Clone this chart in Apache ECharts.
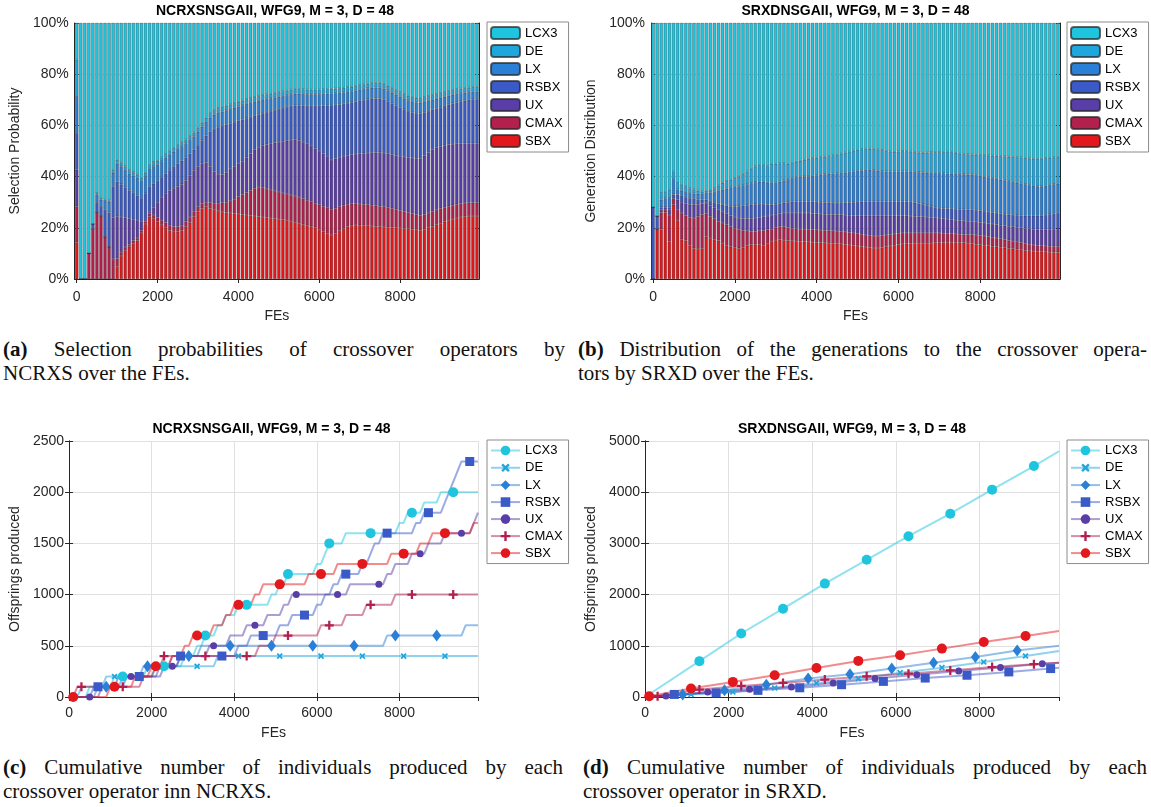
<!DOCTYPE html>
<html>
<head>
<meta charset="utf-8">
<title>Crossover operators</title>
<script src="https://cdn.jsdelivr.net/npm/echarts@6/dist/echarts.min.js"></script>
<style>
  body { margin: 0; background: #fff; width: 1151px; height: 807px; position: relative; overflow: hidden; }
  .panel { position: absolute; width: 575px; height: 330px; }
  .cap { position: absolute; font-family: 'Liberation Serif', 'DejaVu Serif', serif; font-size: 21px; line-height: 24px; color: #111; }
  .cap .l1 { text-align: justify; text-align-last: justify; }
</style>
</head>
<body>
<div id="pa" class="panel" style="left:0;top:0"></div>
<div id="pb" class="panel" style="left:576px;top:0"></div>
<div id="pc" class="panel" style="left:0;top:415px"></div>
<div id="pd" class="panel" style="left:576px;top:415px"></div>

<div class="cap" style="left:3px;top:337px;width:562px">
  <div class="l1"><b>(a)</b> Selection probabilities of crossover operators by</div>
  <div>NCRXS over the FEs.</div>
</div>
<div class="cap" style="left:578px;top:337px;width:569px">
  <div class="l1"><b>(b)</b> Distribution of the generations to the crossover opera-</div>
  <div>tors by SRXD over the FEs.</div>
</div>
<div class="cap" style="left:3px;top:755px;width:560px">
  <div class="l1"><b>(c)</b> Cumulative number of individuals produced by each</div>
  <div>crossover operator inn NCRXS.</div>
</div>
<div class="cap" style="left:583px;top:755px;width:564px">
  <div class="l1"><b>(d)</b> Cumulative number of individuals produced by each</div>
  <div>crossover operator in SRXD.</div>
</div>

<script>
// operators, legend order (top to bottom)
var operators = ['LCX3', 'DE', 'LX', 'RSBX', 'UX', 'CMAX', 'SBX'];
var opColors = {
  LCX3: '#1fc5df', DE: '#1fa6dd', LX: '#2a80d6', RSBX: '#3a5ac7',
  UX: '#5a3ea8', CMAX: '#b2204e', SBX: '#e3181c'
};

// one bar every 100 FEs
var feSteps = [];
for (var g = 0; g < 100; g++) feSteps.push(g * 100);

// ---- (a) NCRXS: cumulative top of each layer (%), bottom layer first ----
var ncrxsSbxTop = [14.3, 0, 0, 0, 0, 0, 0, 0, 0, 0,
  5, 9, 11, 12.6, 14, 15, 18, 21.5, 24.3, 23.5,
  22.4, 21.1, 20, 19, 18.4, 18.5, 19, 20.4, 22, 24.3,
  26.3, 27.6, 28.2, 27.5, 27, 26.6, 26.2, 26, 25.8, 25.6,
  25.4, 25.2, 25, 24.8, 24.6, 24.4, 24.2, 24, 23.8, 23.6,
  23.4, 23.2, 23, 22.6, 22.2, 21.8, 21.4, 21, 20.6, 20.2,
  19.2, 18.5, 17.8, 17.2, 17.8, 18.8, 19.8, 20.5, 21, 21.1,
  21, 20.9, 20.8, 20.7, 20.6, 20.4, 20.3, 20.2, 20.1, 20,
  19.9, 19.8, 19.6, 19.4, 19.2, 19, 19.4, 20, 20.6, 21.2,
  21.8, 22.4, 23, 23.4, 23.8, 24.2, 24.5, 24.6, 24.6, 24.6];
var ncrxsCmaxTop = [28.4, 0, 0, 10, 19.5, 26, 24.6, 16.5, 12.6, 7.8,
  8, 10.5, 12.5, 13.5, 15, 16, 19, 22.5, 25.5, 25,
  24, 23, 22, 21, 20.5, 20.5, 21, 22.5, 24.2, 26.5,
  28.2, 29.5, 30, 29.8, 29.6, 29.6, 29.8, 30, 30.5, 31.2,
  32.2, 33, 33.8, 34.6, 35.4, 35.9, 35.6, 35.2, 34.8, 34.4,
  34, 33.6, 33.2, 32.8, 32.4, 32, 31.4, 30.8, 30.2, 29.6,
  29, 28.4, 27.8, 27.2, 27.6, 28.2, 28.8, 29.2, 29.4, 29.4,
  29.3, 29.2, 29, 28.8, 28.6, 28.4, 28.2, 28, 27.6, 27.2,
  26.8, 26.4, 26, 25.6, 25.2, 24.8, 25.2, 25.8, 26.4, 27,
  27.6, 28, 28.4, 28.8, 29.2, 29.5, 29.7, 29.8, 29.8, 29.8];
var ncrxsUxTop = [42.7, 0, 0, 10, 19.5, 26, 24.6, 16.5, 12.6, 24,
  24.5, 24.2, 24, 23.6, 23.3, 23, 22.6, 23, 26.5, 28,
  30, 32, 33.5, 34.5, 35.5, 36.2, 37, 38.5, 40.5, 42.5,
  44, 45.2, 45.5, 44, 42, 41, 40.8, 41.5, 43, 44,
  45, 46, 47.5, 49, 50.5, 51.5, 52.2, 52.6, 53, 53.3,
  53.5, 53.8, 54, 54.3, 54.5, 54.2, 53.5, 52.8, 52, 51,
  50, 49, 48, 46.5, 47, 47.6, 48, 48.3, 48.6, 48.8,
  49, 49.1, 49.2, 49.3, 49.4, 49.5, 49.2, 48.9, 48.6, 48.3,
  48, 47.7, 47.5, 47.3, 47.1, 47, 48.2, 49.4, 50.5, 51.3,
  51.8, 52.2, 52.5, 52.7, 52.8, 52.9, 53, 53, 53, 53];
var ncrxsRsbxTop = [57, 0, 0, 10, 21.5, 30, 28.5, 27, 26, 36,
  38, 37, 35.8, 34.6, 33.6, 32.6, 31.6, 33.5, 36, 37.2,
  38.3, 39.8, 41.2, 42.5, 43.8, 45, 46.2, 47.5, 49, 50.5,
  52.3, 54.2, 56, 57.5, 58.6, 59.3, 59.8, 60.3, 60.8, 61.3,
  61.8, 62.3, 62.8, 63.3, 63.8, 64.3, 64.8, 65.2, 65.6, 66,
  66.4, 66.8, 67.2, 67.6, 67.8, 67.8, 67.7, 67.6, 67.6, 67.6,
  67.6, 67.7, 67.8, 67.9, 68, 68.2, 68.4, 68.7, 69, 69.3,
  69.6, 69.9, 70.2, 70.4, 70.5, 70.5, 70.1, 69.4, 68.6, 67.8,
  67, 66.3, 65.6, 65.1, 64.8, 64.7, 65.1, 65.6, 66.1, 66.6,
  67.1, 67.6, 68.1, 68.6, 69, 69.4, 69.7, 70, 70.2, 70.3];
var ncrxsLxTop = [71.5, 0, 0, 10, 21.5, 33, 31, 30.5, 30.2, 41.5,
  45, 44, 42.6, 41.2, 40.4, 39.5, 38.3, 40.2, 43, 44,
  44.7, 46, 47.3, 48.5, 49.7, 50.8, 51.9, 53, 54.3, 55.7,
  57.5, 59.5, 61.4, 63, 64.2, 64.9, 65.4, 65.9, 66.4, 66.9,
  67.4, 67.9, 68.4, 68.8, 69.2, 69.6, 70, 70.3, 70.6, 70.9,
  71.2, 71.5, 71.8, 72.2, 72.4, 72.4, 72.3, 72.2, 72.2, 72.2,
  72.2, 72.3, 72.4, 72.5, 72.6, 72.7, 72.9, 73.1, 73.3, 73.6,
  73.9, 74.2, 74.5, 74.7, 74.8, 74.8, 74.4, 73.7, 72.8, 72,
  71.2, 70.5, 69.8, 69.3, 69, 68.9, 69.2, 69.6, 70, 70.4,
  70.8, 71.2, 71.6, 72, 72.3, 72.6, 72.8, 73, 73.2, 73.2];
var ncrxsDeTop = [85.7, 0, 0, 10, 21.5, 33.5, 31.6, 31, 30.7, 42.6,
  46.6, 45.5, 44, 42.5, 41.7, 40.8, 39.5, 41.5, 44.5, 45.6,
  46.2, 47.5, 48.8, 50, 51.2, 52.3, 53.4, 54.5, 55.8, 57.2,
  59, 61, 63, 64.8, 66, 66.7, 67.2, 67.7, 68.2, 68.7,
  69.2, 69.7, 70.2, 70.6, 71, 71.4, 71.8, 72.1, 72.4, 72.7,
  73, 73.3, 73.6, 74, 74.2, 74.2, 74.1, 74, 74, 74,
  74, 74.1, 74.2, 74.3, 74.4, 74.5, 74.7, 74.9, 75.1, 75.4,
  75.7, 76, 76.3, 76.5, 76.6, 76.6, 76.2, 75.5, 74.6, 73.8,
  73, 72.3, 71.6, 71.1, 70.8, 70.7, 71, 71.4, 71.8, 72.2,
  72.6, 73, 73.4, 73.8, 74.1, 74.4, 74.6, 74.8, 75, 75];

// ---- (b) SRXD: cumulative top of each layer (%) ----
var srxdSbxTop = [0, 19.4, 19.3, 26, 14.7, 29, 23, 15.5, 15, 13,
  12, 11.7, 11.8, 16.5, 16, 15.5, 15, 14, 13, 12.6,
  12.4, 12, 12.2, 13, 13.4, 13.6, 13.4, 13.2, 14, 14.8,
  15.2, 15.4, 15.2, 15, 14.9, 14.8, 14.7, 14.6, 14.5, 14.4,
  14.3, 14.2, 14.1, 14, 13.9, 13.8, 13.7, 13.5, 13.3, 13.1,
  12.9, 12.7, 12.5, 12.3, 12.1, 12.1, 12.3, 12.6, 12.9, 13.2,
  13.5, 13.7, 13.8, 13.9, 14, 14, 14, 14, 14, 14.1,
  14.2, 14.3, 14.4, 14.4, 14.4, 14.3, 14.2, 14, 13.8, 13.6,
  13.4, 13.2, 13, 12.8, 12.6, 12.4, 12.2, 12, 11.8, 11.6,
  11.4, 11.2, 11, 10.9, 10.8, 10.7, 10.6, 10.5, 10.4, 10.4];
var srxdCmaxTop = [0, 19.5, 26, 27, 25, 31.3, 27, 25.8, 24.8, 24,
  23.8, 24.5, 25.2, 25.5, 24.5, 23.5, 22.5, 21.9, 21.2, 20.5,
  19.8, 19.3, 19, 18.8, 18.6, 18.6, 18.8, 19, 19.3, 19.5,
  20, 20.6, 20.4, 20.1, 19.8, 19.6, 19.5, 19.5, 19.4, 19.3,
  19.2, 19.1, 19, 18.9, 18.8, 18.7, 18.6, 18.4, 18.2, 18,
  17.8, 17.5, 17.2, 17, 16.8, 16.8, 17, 17.2, 17.4, 17.6,
  17.8, 18, 18, 18, 18, 18, 18, 18, 18, 18,
  18, 17.9, 17.8, 17.7, 17.6, 17.5, 17.4, 17.4, 17.3, 17.2,
  17, 16.8, 16.6, 16.3, 16, 15.7, 15.4, 15.1, 14.8, 14.5,
  14.2, 13.9, 13.6, 13.3, 13.1, 13, 12.9, 12.8, 12.8, 12.8];
var srxdUxTop = [0, 19.5, 27, 28, 27, 31.5, 31, 30, 29.5, 29,
  29, 29.2, 29.5, 29.7, 28.8, 28, 27, 26.2, 25.5, 24.8,
  24.2, 23.8, 23.6, 23.6, 23.7, 23.8, 24, 24.3, 24.6, 25,
  25.3, 25.6, 25.8, 25.8, 25.8, 25.8, 25.8, 25.8, 25.8, 25.6,
  25.5, 25.4, 25.3, 25.2, 25.1, 25.1, 25.1, 25, 24.9, 24.8,
  24.7, 24.7, 24.7, 24.7, 24.7, 24.7, 24.7, 24.7, 24.7, 24.7,
  24.7, 24.7, 24.7, 24.6, 24.5, 24.4, 24.3, 24.2, 24, 23.9,
  23.8, 23.6, 23.4, 23.2, 23, 22.9, 22.7, 22.6, 22.5, 22.3,
  22.1, 21.9, 21.7, 21.5, 21.3, 21, 20.8, 20.6, 20.4, 20.2,
  20, 19.8, 19.6, 19.4, 19.3, 19.3, 19.3, 19.4, 19.5, 19.5];
var srxdRsbxTop = [28, 24.5, 28, 28.5, 28, 33, 33, 32.5, 32, 31.6,
  31.3, 31.1, 31, 31, 30.5, 30, 29.5, 29, 28.6, 28.4,
  28.4, 28.4, 28.6, 28.8, 29, 29.2, 29.3, 29.3, 29.1, 29,
  29.2, 29.5, 29.8, 30, 30.2, 30.3, 30.3, 30.3, 30.3, 30.2,
  30.1, 30, 29.9, 29.8, 29.7, 29.7, 29.7, 29.8, 29.9, 30,
  30.1, 30.2, 30.3, 30.3, 30.3, 30.3, 30.3, 30.3, 30.3, 30.3,
  30.3, 30.3, 30.3, 30.1, 29.8, 29.5, 29.2, 28.8, 28.4, 28,
  27.7, 27.6, 27.5, 27.4, 27.3, 27.2, 27.2, 27.1, 27.1, 26.9,
  26.7, 26.5, 26.2, 26, 25.8, 25.6, 25.3, 25.1, 25, 24.9,
  24.8, 24.7, 24.7, 24.7, 24.7, 24.7, 25, 25.3, 25.6, 25.8];
var srxdLxTop = [28, 24.5, 31, 31.5, 32, 39, 35, 34.5, 34, 33.6,
  33.4, 33.3, 33.4, 33.6, 33.8, 34, 34.4, 34.9, 35.3, 35.8,
  36, 36.2, 36.6, 37, 37.4, 37.8, 38, 38, 37.6, 37.5,
  37.5, 38, 38.5, 39, 39.4, 39.8, 40, 40.1, 40.1, 40.3,
  40.5, 40.7, 40.9, 41.1, 41.2, 41.3, 41.4, 41.6, 41.8, 42,
  42.2, 42.4, 42.6, 42.7, 42.5, 42.3, 42.1, 42, 42, 42,
  42, 42, 42, 41.9, 41.8, 41.7, 41.6, 41.5, 41.4, 41.4,
  41.4, 41.3, 41.2, 41.1, 41, 41, 40.9, 40.8, 40.8, 40.6,
  40.3, 40, 39.7, 39.4, 39.1, 38.8, 38.5, 38.2, 37.9, 37.6,
  37.3, 37, 36.7, 36.4, 36.2, 36.2, 36.4, 36.7, 37, 37.2];
var srxdDeTop = [28, 24.5, 33.5, 34, 34.8, 42, 37.4, 36.7, 36.3, 35.4,
  35, 34.5, 34.2, 34.5, 34.8, 35.4, 36.5, 37.6, 38.2, 38.8,
  39.4, 40, 41, 42, 43, 44, 44.5, 44.5, 44, 45,
  45, 45.2, 45.2, 45, 45.3, 45.8, 46.2, 46.6, 47, 47.2,
  47.4, 47.6, 47.8, 48, 48.3, 48.6, 49, 49.4, 49.8, 50.2,
  50.5, 50.7, 50.8, 50.9, 50.8, 50.6, 50.3, 50, 49.8, 49.7,
  49.8, 49.9, 50, 49.8, 49.6, 49.4, 49.3, 49.4, 49.5, 49.6,
  49.5, 49.6, 49.8, 49.6, 49.3, 49, 48.8, 48.7, 48.6, 48.5,
  48.4, 48.4, 48.3, 48.2, 48.1, 48, 47.9, 47.8, 47.7, 47.6,
  47.5, 47.3, 47.1, 47, 46.9, 46.9, 47.2, 47.4, 47.6, 47.7];

// ---- (c) NCRXS cumulative offspring: FE where a generation (100 offspring) went to the operator ----
var feEnd = 9900;
var ncrxsSteps = {
  LCX3: [400, 1000, 2000, 2700, 3000, 3200, 3500, 3700, 4000, 4800, 5000, 5200, 5900, 6100, 6200, 6600, 7900, 8100, 8500, 8900],
  DE: [200, 800, 1800, 3500],
  LX: [600, 1200, 1700, 2600, 3100, 7600, 9500],
  RSBX: [500, 1300, 2100, 2400, 4000, 4300, 5000, 5300, 5900, 6100, 6300, 6500, 7000, 7200, 7300, 7500, 8300, 8500, 9000, 9100, 9200, 9300, 9400],
  UX: [700, 1100, 2200, 2600, 3300, 3800, 4200, 4700, 5100, 5300, 6700, 7600, 7800, 8200, 8600, 9000, 9700, 9800],
  CMAX: [100, 1700, 2000, 2200, 4500, 4900, 6000, 6600, 7100, 7800],
  SBX: [900, 1500, 1900, 2400, 2700, 2900, 3400, 3700, 3900, 4400, 4600, 5700, 6400, 7700, 8400, 8700, 9700]
};
// marker positions [FE, offspring]
var ncrxsMarks = {
  LCX3: [[1300, 200], [2300, 300], [3300, 600], [4300, 900], [5300, 1200], [6300, 1500], [7300, 1600], [8300, 1800], [9300, 2000]],
  DE: [[1100, 200], [2100, 300], [3100, 300], [4100, 400], [5100, 400], [6100, 400], [7100, 400], [8100, 400], [9100, 400]],
  LX: [[900, 100], [1900, 300], [2900, 400], [3900, 500], [4900, 500], [5900, 500], [6900, 500], [7900, 600], [8900, 600]],
  RSBX: [[700, 100], [1700, 200], [2700, 400], [3700, 400], [4700, 600], [5700, 800], [6700, 1200], [7700, 1600], [8700, 1800], [9700, 2300]],
  UX: [[500, 0], [1500, 200], [2500, 300], [3500, 500], [4500, 700], [5500, 1000], [6500, 1000], [7500, 1100], [8500, 1400], [9500, 1600]],
  CMAX: [[300, 100], [1300, 100], [2300, 400], [3300, 400], [4300, 400], [5300, 600], [6300, 700], [7300, 900], [8300, 1000], [9300, 1000]],
  SBX: [[100, 0], [1100, 100], [2100, 300], [3100, 600], [4100, 900], [5100, 1100], [6100, 1200], [7100, 1300], [8100, 1400], [9100, 1600]]
};

// ---- (d) SRXD cumulative offspring: marker points and value at the last FE ----
var srxdMarks = {
  LCX3: [[1300, 700], [2300, 1240], [3300, 1725], [4300, 2215], [5300, 2680], [6300, 3140], [7300, 3580], [8300, 4050], [9300, 4510]],
  DE: [[1100, 52], [2100, 98], [3100, 176], [4100, 273], [5100, 358], [6100, 475], [7100, 573], [8100, 684], [9100, 801]],
  LX: [[900, 50], [1900, 130], [2900, 240], [3900, 360], [4900, 445], [5900, 555], [6900, 670], [7900, 780], [8900, 910]],
  RSBX: [[700, 50], [1700, 80], [2700, 130], [3700, 180], [4700, 240], [5700, 305], [6700, 370], [7700, 425], [8700, 490], [9700, 555]],
  UX: [[500, 20], [1500, 100], [2500, 150], [3500, 195], [4500, 275], [5500, 360], [6500, 435], [7500, 510], [8500, 575], [9500, 650]],
  CMAX: [[300, 15], [1300, 145], [2300, 215], [3300, 275], [4300, 340], [5300, 405], [6300, 455], [7300, 520], [8300, 585], [9300, 640]],
  SBX: [[100, 15], [1100, 165], [2100, 295], [3100, 425], [4100, 565], [5100, 705], [6100, 815], [7100, 945], [8100, 1075], [9100, 1190]]
};
var srxdEnd = { LCX3: 4800, DE: 900, LX: 1000, RSBX: 570, UX: 670, CMAX: 670, SBX: 1290 };

var FONT = 'Liberation Sans, Arial, Helvetica, sans-serif';
var INK = '#262626';
var every20 = function (i) { return i % 20 === 0; };
var plain = function (v) { return String(v); };

// marker shapes for the line panels
var plusPath = 'path://M3,0H5V3H8V5H5V8H3V5H0V3H3Z';
var markStyle = {
  LCX3: { symbol: 'circle', size: 10, rotate: 0 },
  DE: { symbol: plusPath, size: 7, rotate: 45 },
  LX: { symbol: 'diamond', size: [9, 12], rotate: 0 },
  RSBX: { symbol: 'rect', size: 9, rotate: 0 },
  UX: { symbol: 'circle', size: 7, rotate: 0 },
  CMAX: { symbol: plusPath, size: 9, rotate: 0 },
  SBX: { symbol: 'circle', size: 10, rotate: 0 }
};

function legendOpt(left) {
  return {
    orient: 'vertical', left: left, top: 22,
    data: operators,
    itemWidth: 29, itemHeight: 12, itemGap: 4,
    padding: [4, 6, 4, 3],
    borderColor: '#8c8c8c', borderWidth: 1, borderRadius: 0,
    backgroundColor: '#fff',
    textStyle: { fontFamily: FONT, fontSize: 13, color: '#000', lineHeight: 13 }
  };
}

function titleOpt(text, x, top) {
  return {
    text: text, left: x, top: top, textAlign: 'center', padding: 0,
    textStyle: { fontFamily: FONT, fontSize: 14, fontWeight: 'bold', color: '#000' }
  };
}

function boxAxis(base, extra) {
  return Object.assign({
    axisLine: { show: true, lineStyle: { color: INK, width: 1 } },
    axisTick: { show: true, inside: true, length: 4, lineStyle: { color: INK } },
    axisLabel: { show: false },
    splitLine: { show: false }
  }, base, extra || {});
}

function barPanel(id, title, yName, tops, gridLeft, gridWidth, legendLeft) {
  var chart = echarts.init(document.getElementById(id));
  // stacked shares from the cumulative tops; LCX3 fills up to 100%
  var layers = ['SBX', 'CMAX', 'UX', 'RSBX', 'LX', 'DE', 'LCX3'];
  var series = layers.map(function (name, k) {
    var data = feSteps.map(function (fe, i) {
      var hi = k < 6 ? tops[k][i] : 100;
      var lo = k > 0 ? tops[k - 1][i] : 0;
      return +(hi - lo).toFixed(2);
    });
    return {
      name: name, type: 'bar', stack: 'ops', data: data,
      barCategoryGap: '18%',
      itemStyle: { color: opColors[name], borderColor: 'rgba(38,38,38,0.7)', borderWidth: 0.5 },
      emphasis: { disabled: true }
    };
  });
  chart.setOption({
    animation: false,
    title: titleOpt(title, gridLeft + gridWidth / 2, 4),
    legend: legendOpt(legendLeft),
    grid: { left: gridLeft, top: 23, width: gridWidth, height: 256 },
    xAxis: [
      boxAxis({ type: 'category', data: feSteps, boundaryGap: true }, {
        axisTick: { show: true, inside: true, length: 4, interval: every20, alignWithLabel: true, lineStyle: { color: INK } },
        axisLabel: { show: true, interval: every20, margin: 11, fontFamily: FONT, fontSize: 14, color: INK },
        name: 'FEs', nameLocation: 'middle', nameGap: 30,
        nameTextStyle: { fontFamily: FONT, fontSize: 14, color: INK }
      }),
      boxAxis({ type: 'category', data: feSteps, boundaryGap: true, position: 'top' }, {
        axisTick: { show: true, inside: true, length: 4, interval: every20, alignWithLabel: true, lineStyle: { color: INK } }
      })
    ],
    yAxis: [
      boxAxis({ type: 'value', min: 0, max: 100, interval: 20 }, {
        axisLabel: { show: true, formatter: '{value}%', margin: 6, fontFamily: FONT, fontSize: 14, color: INK },
        splitLine: { show: true, lineStyle: { color: '#cfcfcf', type: 'dotted' } },
        name: yName, nameLocation: 'middle', nameGap: 49,
        nameTextStyle: { fontFamily: FONT, fontSize: 14, color: INK }
      }),
      boxAxis({ type: 'value', min: 0, max: 100, interval: 20, position: 'right' })
    ],
    series: series
  });
}

function stairLine(steps) {
  var pts = [[0, 0]];
  steps.forEach(function (fe, k) {
    pts.push([fe, k * 100]);
    pts.push([fe + 100, (k + 1) * 100]);
  });
  pts.push([feEnd, steps.length * 100]);
  return pts;
}

function linePanel(id, title, lines, marks, yMax, yInterval, gridLeft, gridWidth, legendLeft) {
  var chart = echarts.init(document.getElementById(id));
  var series = [];
  operators.forEach(function (name) {
    var m = markStyle[name];
    series.push({
      name: name, type: 'line', data: lines[name],
      showSymbol: false, symbol: m.symbol, symbolSize: m.size, symbolRotate: m.rotate,
      lineStyle: { color: opColors[name], width: 2, opacity: 0.5 },
      itemStyle: { color: opColors[name] },
      emphasis: { disabled: true }, z: 2
    });
  });
  operators.forEach(function (name) {
    var m = markStyle[name];
    series.push({
      name: name, type: 'scatter', data: marks[name],
      symbol: m.symbol, symbolSize: m.size, symbolRotate: m.rotate,
      itemStyle: { color: opColors[name], opacity: 1 },
      emphasis: { disabled: true }, z: 3
    });
  });
  chart.setOption({
    animation: false,
    title: titleOpt(title, gridLeft + gridWidth / 2, 7),
    legend: Object.assign(legendOpt(legendLeft), { top: 25 }),
    grid: { left: gridLeft, top: 26, width: gridWidth, height: 256 },
    xAxis: [
      boxAxis({ type: 'value', min: 0, max: feEnd, interval: 2000 }, {
        axisLabel: { show: true, margin: 9, showMaxLabel: false, formatter: plain, fontFamily: FONT, fontSize: 14, color: INK },
        splitLine: { show: true, lineStyle: { color: '#e0e0e0' } },
        name: 'FEs', nameLocation: 'middle', nameGap: 29,
        nameTextStyle: { fontFamily: FONT, fontSize: 14, color: INK }
      }),
      boxAxis({ type: 'value', min: 0, max: feEnd, interval: 2000, position: 'top' })
    ],
    yAxis: [
      boxAxis({ type: 'value', min: 0, max: yMax, interval: yInterval }, {
        axisLabel: { show: true, margin: 5, formatter: plain, fontFamily: FONT, fontSize: 14, color: INK },
        splitLine: { show: true, lineStyle: { color: '#e0e0e0' } },
        name: 'Offsprings produced', nameLocation: 'middle', nameGap: 43,
        nameTextStyle: { fontFamily: FONT, fontSize: 14, color: INK }
      }),
      boxAxis({ type: 'value', min: 0, max: yMax, interval: yInterval, position: 'right' })
    ],
    series: series
  });
}

var title = ', WFG9, M = 3, D = 48';
barPanel('pa', 'NCRXSNSGAII' + title, 'Selection Probability',
  [ncrxsSbxTop, ncrxsCmaxTop, ncrxsUxTop, ncrxsRsbxTop, ncrxsLxTop, ncrxsDeTop], 71, 408, 487);
barPanel('pb', 'SRXDNSGAII' + title, 'Generation Distribution',
  [srxdSbxTop, srxdCmaxTop, srxdUxTop, srxdRsbxTop, srxdLxTop, srxdDeTop], 75, 409, 491);

var ncrxsLines = {};
operators.forEach(function (name) { ncrxsLines[name] = stairLine(ncrxsSteps[name]); });
linePanel('pc', 'NCRXSNSGAII' + title, ncrxsLines, ncrxsMarks, 2500, 500, 65, 413, 487);

var srxdLines = {};
operators.forEach(function (name) {
  srxdLines[name] = [[0, 0]].concat(srxdMarks[name], [[feEnd, srxdEnd[name]]]);
});
linePanel('pd', 'SRXDNSGAII' + title, srxdLines, srxdMarks, 5000, 1000, 69, 414, 491);
</script>
</body>
</html>
